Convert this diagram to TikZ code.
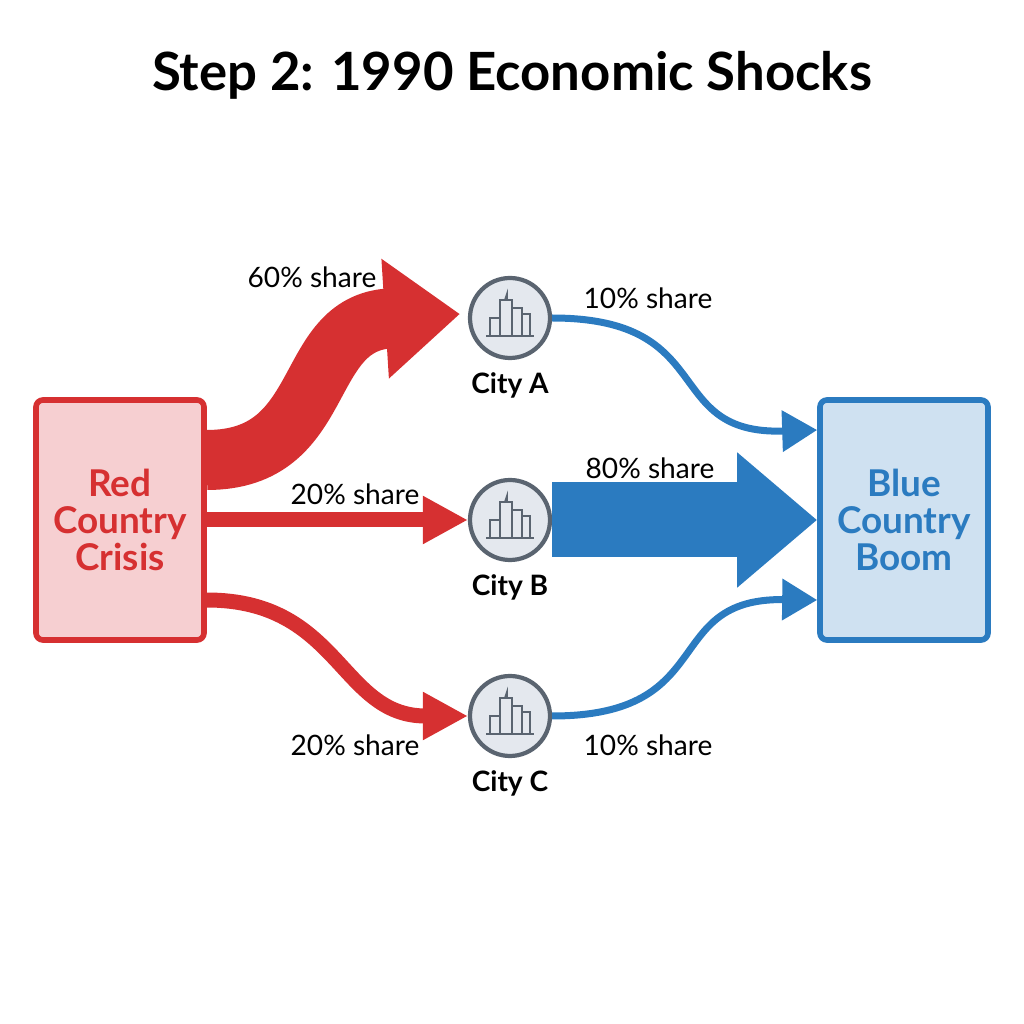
\documentclass[tikz,border=0pt]{standalone}
\usepackage{fontspec}
\setmainfont{Lato}
\usetikzlibrary{positioning, arrows.meta}
\definecolor{redc}{HTML}{D63031}
\definecolor{redf}{HTML}{F6CFD1}
\definecolor{bluec}{HTML}{2B7BC0}
\definecolor{bluef}{HTML}{CFE1F1}
\definecolor{cityf}{HTML}{E4E8EE}
\definecolor{cityd}{HTML}{5A6470}
\begin{document}
\begin{tikzpicture}
		[
		x=1cm, y=1cm,
		box/.style ={rectangle, rounded corners=2pt, line width=1.6pt, inner sep=0pt, minimum width=1.68cm, minimum height=2.4cm, align=center, font=\bfseries\fontsize{10.5}{10.5}\selectfont},
		city/.style ={circle, draw=cityd, fill=cityf, line width=1.2pt, minimum size=0.8cm},
		cityname/.style ={font=\bfseries\fontsize{8}{9}\selectfont},
		share/.style ={font=\fontsize{8}{9}\selectfont},
		flow/.style ={line cap=butt}
		]
		\useasboundingbox (0,0) rectangle (10.24,10.24);
		\node[font=\bfseries\fontsize{15}{18}\selectfont] (title) at (5.12,9.49) {Step 2: 1990 Economic Shocks};
		\node[box, draw=redc, fill=redf, text=redc] (red) at (1.2,5.04) {Red\\Country\\Crisis};
		\node[box, draw=bluec, fill=bluef, text=bluec] (blue) at (9.04,5.04) {Blue\\Country\\Boom};
		\node[city] (a) at (5.1,7.06) {};
		\node[city] (b) at (5.1,5.04) {};
		\node[city] (c) at (5.1,3.08) {};
		\foreach \n in {a,b,c}{
			\begin{scope}[shift={(\n.center)}, draw=cityd, line width=0.5pt]
				\draw (-0.24,-0.18) -- (0.24,-0.18);
				\draw (-0.2,-0.18) rectangle (-0.1,0.0);
				\draw (-0.1,-0.18) rectangle (0.02,0.18);
				\draw (-0.05,0.18) -- (-0.03,0.24) -- (-0.03,0.18);
				\draw (0.02,-0.18) rectangle (0.12,0.1);
				\draw (0.12,-0.18) rectangle (0.2,0.04);
			\end{scope}
		}
		\node[cityname, below=0pt of a] (la) {City A};
		\node[cityname, below=0pt of b] (lb) {City B};
		\node[cityname, below=0pt of c] (lc) {City C};
		% red flows
		\draw[flow, draw=redc, line width=0.6cm, -{Triangle[length=0.75cm, width=1.15cm]}] ([yshift=0.6cm]red.east) .. controls (3.3,5.64) and (3.0,7.0) .. (4.6,7.1);
		\draw[flow, draw=redc, line width=0.15cm, -{Triangle[length=0.45cm, width=0.45cm]}] (red.east |- b.west) -- (b.west);
		\draw[flow, draw=redc, line width=0.15cm, -{Triangle[length=0.45cm, width=0.45cm]}] ([yshift=-0.8cm]red.east) .. controls (3.4,4.24) and (3.4,3.08) .. (c.west);
		% blue flows
		\draw[flow, draw=bluec, line width=0.07cm, -{Triangle[length=0.35cm, width=0.4cm]}] (a.east) .. controls (7.2,7.06) and (6.6,5.89) .. ([yshift=0.9cm]blue.west);
		\draw[flow, draw=bluec, line width=0.75cm, -{Triangle[length=0.8cm, width=1.3cm]}] (b.east) -- (blue.west |- b.east);
		\draw[flow, draw=bluec, line width=0.07cm, -{Triangle[length=0.35cm, width=0.4cm]}] (c.east) .. controls (7.2,3.08) and (6.6,4.26) .. ([yshift=-0.8cm]blue.west);
		% labels
		\node[share] (s1) at (3.12,7.47) {60\% share};
		\node[share] (s2) at (3.55,5.3) {20\% share};
		\node[share] (s3) at (3.55,2.79) {20\% share};
		\node[share] (s4) at (6.48,7.26) {10\% share};
		\node[share] (s5) at (6.5,5.56) {80\% share};
		\node[share] (s6) at (6.48,2.79) {10\% share};
	\end{tikzpicture}
\end{document}
